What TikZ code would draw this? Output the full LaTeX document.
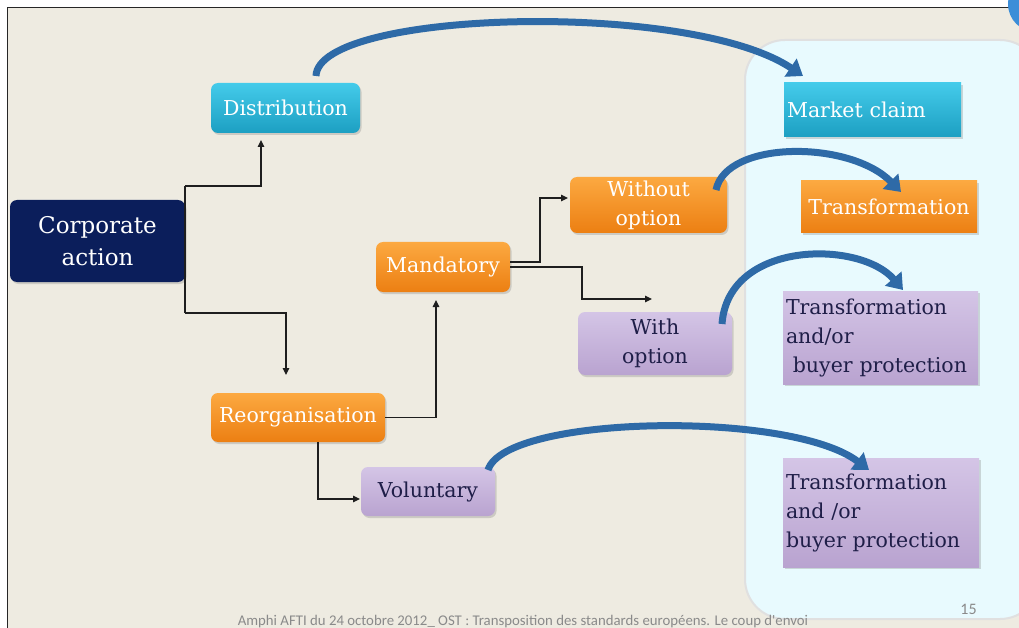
\documentclass[tikz,border=0pt]{standalone}
\usepackage{fontspec}
\setmainfont{DejaVu Serif}
\newfontfamily\footfont{Carlito}
\usetikzlibrary{arrows.meta,shadows}
\definecolor{bgbeige}{HTML}{EEEBE1}
\definecolor{panelblue}{HTML}{E8FAFE}
\definecolor{navybox}{HTML}{0B1E5B}
\definecolor{cyantop}{HTML}{44CBEA}
\definecolor{cyanbot}{HTML}{1C9FC2}
\definecolor{orangetop}{HTML}{FCA941}
\definecolor{orangebot}{HTML}{EC7F12}
\definecolor{lavtop}{HTML}{D4C5E6}
\definecolor{lavbot}{HTML}{B9A3D0}
\definecolor{lavtext}{HTML}{1F1E48}
\definecolor{bluearrow}{HTML}{2E6AA7}
\definecolor{conncol}{HTML}{1E1E1E}
\definecolor{footgray}{HTML}{8A8A8A}
\definecolor{cornerblue}{HTML}{3C8ED8}
\tikzset{
  box/.style={inner sep=3pt, outer sep=0pt, align=center, font=\fontsize{20.5}{29}\selectfont,
    drop shadow={opacity=0.3, shadow xshift=1.5pt, shadow yshift=-2pt}},
  rbox/.style={box, rounded corners=7pt},
  cyanfill/.style={top color=cyantop, bottom color=cyanbot, text=white},
  orangefill/.style={top color=orangetop, bottom color=orangebot, text=white},
  lavfill/.style={top color=lavtop, bottom color=lavbot, text=lavtext},
  conn/.style={draw=conncol, line width=1.1pt, -{Triangle[length=7pt,width=6.5pt]}},
  bigarrow/.style={draw=bluearrow, line width=7pt, -{Triangle[length=15pt,width=21pt]}},
}
\begin{document}
\begin{tikzpicture}[x=1pt,y=-1pt]
\useasboundingbox (0,0) rectangle (1019,628);
% background and frame
\fill[white] (0,0) rectangle (1019,628);
\fill[bgbeige] (7.5,7.5) rectangle (1019,628);
\draw[black!85, line width=1.6pt] (7.5,628) -- (7.5,7.5) -- (1019,7.5);
\fill[cornerblue] (1036,4) circle (28);
% right panel
\draw[draw=black!12, line width=2pt, fill=panelblue, rounded corners=40pt] (745,40) rectangle (1040,619);
% nodes
\node[rbox, fill=navybox, text=white, minimum width=175pt, minimum height=82pt,
  font=\fontsize{23}{32}\selectfont] (ca) at (97.5,241) {Corporate\\action};
\node[rbox, cyanfill, minimum width=149pt, minimum height=50pt] (dist) at (285.5,108) {Distribution};
\node[box, cyanfill, minimum width=177pt, minimum height=54pt, text width=171pt, align=left] (mc) at (872.5,110) {Market claim};
\node[rbox, orangefill, minimum width=157pt, minimum height=56pt] (wo) at (648.5,205) {Without\\option};
\node[box, orangefill, minimum width=176pt, minimum height=52pt] (tr) at (889,207) {Transformation};
\node[rbox, orangefill, minimum width=134pt, minimum height=50pt] (mand) at (443,267) {Mandatory};
\node[rbox, lavfill, minimum width=154pt, minimum height=63pt] (wi) at (655,343.5) {With\\option};
\node[box, lavfill, minimum width=193pt, minimum height=93pt, text width=189pt, align=left] (tb1) at (880.5,337.5) {Transformation\\and/or\\\ buyer protection};
\node[rbox, orangefill, minimum width=174pt, minimum height=49pt] (reorg) at (298,417.5) {Reorganisation};
\node[rbox, lavfill, minimum width=134pt, minimum height=49pt] (vol) at (428,491.5) {Voluntary};
\node[box, lavfill, minimum width=194pt, minimum height=109pt, text width=190pt, align=left] (tb2) at (881,512.5) {Transformation\\and /or\\buyer protection};
% thin connectors
\draw[draw=conncol, line width=1.1pt] ([yshift=-31pt]ca.south east) -- ([yshift=14pt]ca.north east);
\draw[conn] ([yshift=14pt]ca.north east) -| ([xshift=-24.5pt,yshift=-7pt]dist.south);
\draw[conn] ([yshift=-31pt]ca.south east) -| ([xshift=-12pt,yshift=18pt]reorg.north);
\draw[conn] (reorg.east) -| ([xshift=-7pt,yshift=-8pt]mand.south);
\draw[conn] ([xshift=20pt]reorg.south) |- ([yshift=-7.5pt,xshift=-1pt]vol.west);
\draw[conn] ([yshift=5pt]mand.east) -- ++(30pt,0) |- ([yshift=7pt,xshift=-2pt]wo.west);
\coordinate (wiend) at ([xshift=-3pt,yshift=13pt]wi.north);
\draw[conn] (mand.east) -- ++(72pt,0) |- (wiend);
% big blue arrows
\draw[bigarrow] ([xshift=-44pt,yshift=7pt]dist.north east) .. controls (318,10) and (690,0) .. ([xshift=19pt,yshift=7pt]mc.north west);
\draw[bigarrow] ([xshift=-11pt,yshift=-13pt]wo.north east) .. controls (726,140) and (850,140) .. ([xshift=100pt,yshift=-11pt]tr.north west);
\draw[bigarrow] ([xshift=-10pt,yshift=-12pt]wi.north east) .. controls (728,240) and (860,240) .. ([xshift=120pt,yshift=1pt]tb1.north west);
\draw[bigarrow] ([xshift=-7pt,yshift=-3pt]vol.north east) .. controls (505,415) and (790,410) .. ([xshift=86pt,yshift=-12pt]tb2.north west);
% footer
\node[font=\footfont\fontsize{14.8}{16}\selectfont, text=footgray, anchor=base] (foot) at (523,625) {Amphi AFTI du 24 octobre 2012\_ OST : Transposition des standards europ\'eens. Le coup d'envoi};
\node[font=\footfont\fontsize{16}{18}\selectfont, text=footgray, anchor=base] (pg) at (968.5,614) {15};
\end{tikzpicture}
\end{document}
